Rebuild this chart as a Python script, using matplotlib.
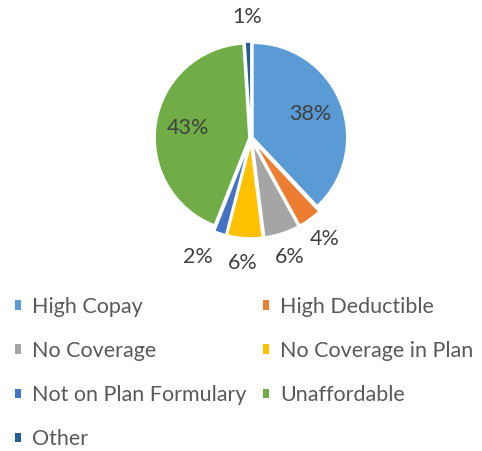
import numpy as np
import matplotlib.pyplot as plt
from matplotlib.patches import Patch

plt.rcParams['font.family'] = ['Lato', 'DejaVu Sans']

categories = ['High Copay', 'High Deductible', 'No Coverage', 'No Coverage in Plan',
              'Not on Plan Formulary', 'Unaffordable', 'Other']
values = [38, 4, 6, 6, 2, 43, 1]
colors = ['#5B9BD5', '#ED7D31', '#A5A5A5', '#FFC000', '#4472C4', '#70AD47', '#255E91']
explode = [0.02, 0.06, 0.06, 0.06, 0.06, 0.02, 0.02]

W, H = 482, 451
fig = plt.figure(figsize=(W / 100, H / 100), dpi=100)

# pie axes: 1 data unit = 100 px, centre at (251, 138) px
cx, cy, half = 251, 138, 125
ax = fig.add_axes([(cx - half) / W, (H - cy - half) / H, 2 * half / W, 2 * half / H])
ax.set_xlim(-1.25, 1.25)
ax.set_ylim(-1.25, 1.25)
ax.set_aspect('equal')
ax.axis('off')

wedges, _ = ax.pie(values, colors=colors, explode=explode, startangle=90,
                   counterclock=False, radius=0.94,
                   wedgeprops=dict(edgecolor='white', linewidth=1.2))

total = sum(values)
for w, v in zip(wedges, values):
    ang = np.deg2rad((w.theta1 + w.theta2) / 2)
    x0, y0 = w.center
    if v > 10:
        r, ha = 0.62, 'center'
    else:
        r = 1.19
        ha = 'right' if np.cos(ang) < -0.25 else 'center'
    ax.text(x0 + r * np.cos(ang), y0 + r * np.sin(ang), f'{round(100 * v / total)}%',
            ha=ha, va='center', fontsize=15.5, color='#404040')

# legend, laid out row by row like the original
order = [0, 2, 4, 6, 1, 3, 5]
handles = [Patch(facecolor=colors[i], edgecolor='none') for i in order]
labels = [categories[i] for i in order]
fig.legend(handles, labels, ncol=2, loc='upper left', bbox_to_anchor=(0.013, 0.361),
           frameon=False, fontsize=15.5, labelcolor='#595959', handlelength=0.3,
           handleheight=0.3, handletextpad=0.5, columnspacing=0.75, labelspacing=1.12,
           borderaxespad=0)

fig.savefig('out.png', dpi=100, facecolor='white')
